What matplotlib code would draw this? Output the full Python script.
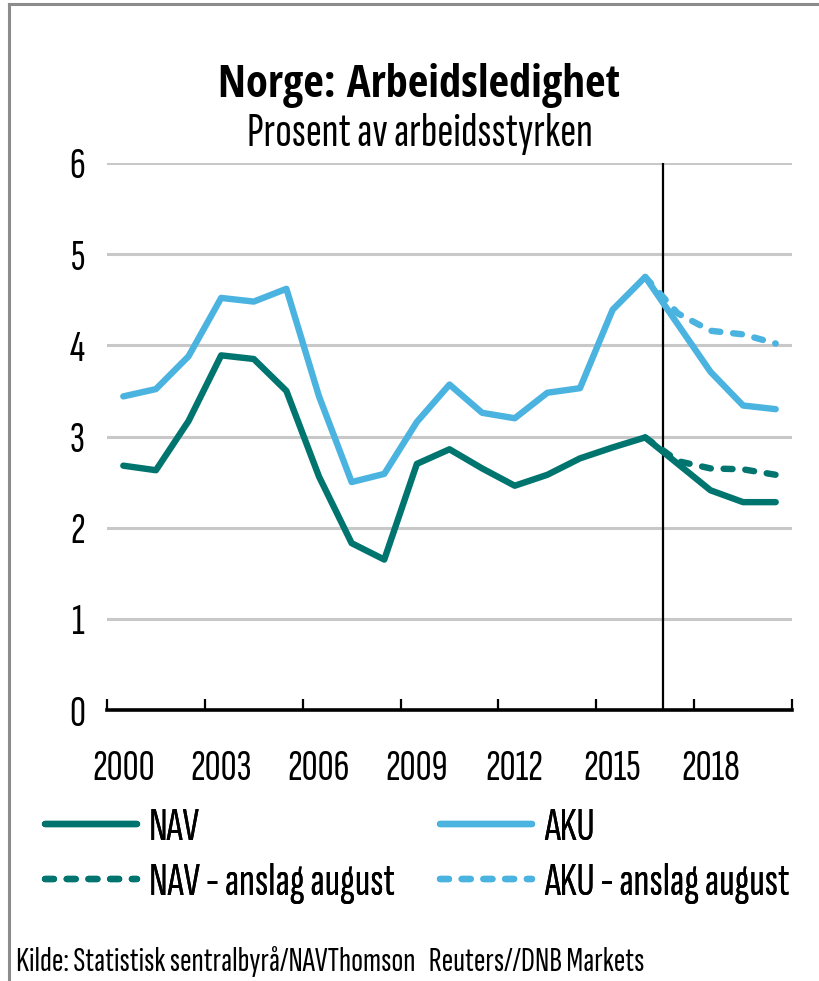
import numpy as np
import matplotlib
matplotlib.use('Agg')
import matplotlib.pyplot as plt
from matplotlib.lines import Line2D

plt.rcParams['font.family'] = ['Sofia Sans Extra Condensed', 'Liberation Sans', 'DejaVu Sans']
TITLE_FONT = ['Open Sans Condensed', 'Liberation Sans', 'DejaVu Sans']

years = list(range(2000, 2021))
nav = [2.68, 2.63, 3.17, 3.89, 3.85, 3.50, 2.56, 1.83, 1.65, 2.70, 2.86,
       2.65, 2.46, 2.58, 2.76, 2.88, 2.99, 2.70, 2.41, 2.28, 2.28]
aku = [3.44, 3.52, 3.88, 4.52, 4.48, 4.62, 3.44, 2.50, 2.59, 3.16, 3.57,
       3.26, 3.20, 3.48, 3.53, 4.39, 4.75, 4.23, 3.71, 3.34, 3.30]
nan = np.nan
nav_fc = [nan] * 16 + [2.99, 2.73, 2.65, 2.64, 2.58]
aku_fc = [nan] * 16 + [4.75, 4.35, 4.16, 4.12, 4.02]
tick_years = [2000, 2003, 2006, 2009, 2012, 2015, 2018]

title = 'Norge: Arbeidsledighet'
subtitle = 'Prosent av arbeidsstyrken'
source = 'Kilde: Statistisk sentralbyrå/NAVThomson   Reuters//DNB Markets'

C_NAV = '#00746F'
C_AKU = '#4BB3DF'

W, H = 819, 981
fig = plt.figure(figsize=(W / 100, H / 100), dpi=100)
renderer = fig.canvas.get_renderer()


def fit_size(text, target_px, **kw):
    # font size (pt) that makes `text` about target_px wide
    t = fig.text(0, 0, text, fontsize=20, **kw)
    w = t.get_window_extent(renderer=renderer).width
    t.remove()
    return 20 * target_px / w


fs_tick = fit_size('2000', 63)
fs_leg = fit_size('NAV - anslag august', 246)
fs_title = fit_size(title, 402, family=TITLE_FONT, fontweight='bold')
fs_sub = fit_size(subtitle, 346)
fs_src = fit_size(source, 628)

ax = fig.add_axes([107 / W, 1 - 710 / H, 685 / W, 547 / H])

x = np.arange(len(years))
dash = dict(lw=4.6, linestyle=(0, (1.4, 2.0)), dash_capstyle='round')
l_navfc, = ax.plot(x, nav_fc, color=C_NAV, label='NAV - anslag august', **dash)
l_akufc, = ax.plot(x, aku_fc, color=C_AKU, label='AKU - anslag august', **dash)
l_nav, = ax.plot(x, nav, color=C_NAV, lw=4.6, solid_capstyle='round', label='NAV')
l_aku, = ax.plot(x, aku, color=C_AKU, lw=4.6, solid_capstyle='round', label='AKU')

# vertical marker between actuals and forecast
ax.axvline(16.55, color='black', lw=1.6, zorder=1)

ax.set_xlim(-0.5, len(years) - 0.5)
ax.set_ylim(0, 6)
ax.set_yticks(range(7))
ax.grid(axis='y', color='#c8c8c8', lw=2.2, zorder=0)
ax.set_axisbelow(True)

ax.set_xticks([years.index(y) for y in tick_years])
ax.set_xticklabels([str(y) for y in tick_years])
ax.set_xticks(np.arange(-0.5, len(years), 3), minor=True)
ax.tick_params(axis='x', which='major', length=0, pad=28, labelsize=fs_tick)
ax.tick_params(axis='x', which='minor', direction='in', length=8, width=1.6)
ax.tick_params(axis='y', length=0, pad=16, labelsize=fs_tick)

for s in ['top', 'right', 'left']:
    ax.spines[s].set_visible(False)
ax.spines['bottom'].set_linewidth(2.6)
ax.spines['bottom'].set_zorder(5)

fig.text(419 / W, 1 - 97 / H, title, ha='center', va='baseline',
         fontsize=fs_title, fontweight='bold', family=TITLE_FONT)
fig.text(420 / W, 1 - 146 / H, subtitle, ha='center', va='baseline', fontsize=fs_sub)

# legend: one entry per slot so rows/columns sit where the reference has them
fs_px = fs_leg * 100 / 72
leg_kw = dict(loc='center left', frameon=False, fontsize=fs_leg,
              handlelength=92 / fs_px, handletextpad=12 / fs_px,
              borderpad=0, borderaxespad=0)
slots = [(l_nav, 45, 828), (l_navfc, 45, 883), (l_aku, 440, 828), (l_akufc, 440, 883)]
for h, lx, ly in slots:
    leg = fig.legend(handles=[h], bbox_to_anchor=(lx / W, 1 - ly / H), **leg_kw)
    fig.add_artist(leg)

fig.text(16 / W, 1 - 971 / H, source, ha='left', va='baseline', fontsize=fs_src)

# grey frame (left and top edges)
fig.add_artist(Line2D([9 / W, 9 / W], [0, 1 - 4 / H], color='#8c8c8c', lw=2.2))
fig.add_artist(Line2D([9 / W, 1], [1 - 4 / H, 1 - 4 / H], color='#8c8c8c', lw=2.2))

fig.savefig('out.png', dpi=100)
